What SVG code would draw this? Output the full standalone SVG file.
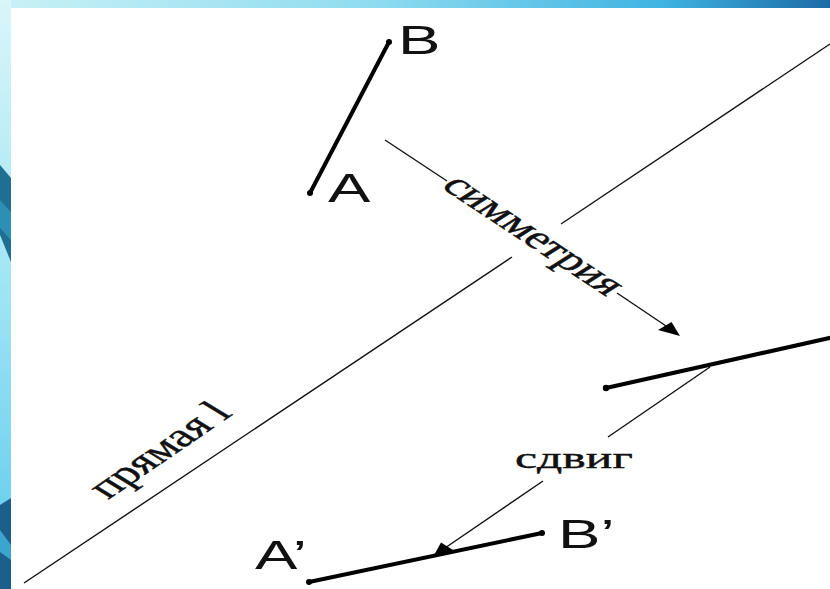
<svg xmlns="http://www.w3.org/2000/svg" width="830" height="589" viewBox="0 0 830 589">
  <defs>
    <linearGradient id="topg" x1="0" y1="0" x2="1" y2="0">
      <stop offset="0" stop-color="#c9f1f6"/>
      <stop offset="0.45" stop-color="#8fdcf0"/>
      <stop offset="0.8" stop-color="#3fb3e2"/>
      <stop offset="1" stop-color="#1b6aa6"/>
    </linearGradient>
    <linearGradient id="leftg" x1="0" y1="0" x2="0" y2="1">
      <stop offset="0" stop-color="#d9f6f9"/>
      <stop offset="0.5" stop-color="#9fe4f4"/>
      <stop offset="1" stop-color="#5cc9ec"/>
    </linearGradient>
    <style>
      .thin { stroke: #111; stroke-width: 1.4; fill: none; }
      .thick { stroke: #000; stroke-width: 4; fill: none; stroke-linecap: round; }
      .dot { fill: #000; }
      .head { fill: #000; }
      .lbl { font-family: "Liberation Sans", Arial, sans-serif; font-size: 41px; fill: #111; }
      .ser { font-family: "Liberation Serif", "Times New Roman", serif; fill: #111; stroke: #111; stroke-width: 0.4; }
    </style>
  </defs>

  <!-- background -->
  <rect x="0" y="0" width="830" height="589" fill="#ffffff"/>
  <rect x="0" y="0" width="830" height="8" fill="url(#topg)"/>
  <rect x="0" y="0" width="11" height="589" fill="url(#leftg)"/>
  <path d="M0 165 L11 178 L11 262 L0 235 Z" fill="#1f6f93"/>
  <path d="M0 200 L11 212 L11 240 L0 228 Z" fill="#2d8fb3"/>
  <path d="M0 505 L11 498 L11 589 L0 589 Z" fill="#1d5f8c"/>
  <path d="M0 530 L11 545 L11 560 L0 552 Z" fill="#3aa6cf"/>

  <!-- line l -->
  <g id="line-l">
    <line class="thin" x1="24" y1="583" x2="512" y2="257"/>
    <line class="thin" x1="561" y1="224" x2="830" y2="44"/>
    <text class="ser" font-size="33" textLength="118" lengthAdjust="spacingAndGlyphs" transform="translate(108,500) scale(1.55,1) rotate(-46.6)" x="0" y="0">прямая l</text>
  </g>

  <!-- segment AB -->
  <g id="segment-AB">
    <line class="thick" x1="310" y1="193" x2="389" y2="42"/>
    <circle class="dot" cx="310" cy="193" r="3"/>
    <circle class="dot" cx="389" cy="42" r="3"/>
    <text class="lbl" transform="translate(398,54) scale(1.55,1)">B</text>
    <text class="lbl" transform="translate(328,202) scale(1.55,1)">A</text>
  </g>

  <!-- reflected segment -->
  <g id="segment-reflected">
    <line class="thick" x1="606" y1="388" x2="834" y2="337"/>
    <circle class="dot" cx="606" cy="388" r="3.2"/>
  </g>

  <!-- segment A'B' -->
  <g id="segment-A1B1">
    <line class="thick" x1="309" y1="582" x2="542" y2="533"/>
    <circle class="dot" cx="309" cy="582" r="3"/>
    <circle class="dot" cx="542" cy="533" r="3"/>
    <text class="lbl" transform="translate(255,569) scale(1.55,1)">A’</text>
    <text class="lbl" transform="translate(558,548) scale(1.55,1)">B’</text>
  </g>

  <!-- connectors -->
  <g id="connectors">
    <g id="arrow-symmetry">
      <line class="thin" x1="385" y1="140" x2="447" y2="181"/>
      <line class="thin" x1="617" y1="293" x2="672" y2="330"/>
      <polygon class="head" points="680,336 658,330 671.5,322"/>
      <text class="ser" font-size="32" text-anchor="middle" textLength="154" lengthAdjust="spacingAndGlyphs" transform="translate(531,237) scale(1.55,1) rotate(45.7)" x="0" y="7">симметрия</text>
    </g>
    <g id="arrow-shift">
      <line class="thin" x1="710" y1="367" x2="608" y2="437"/>
      <line class="thin" x1="543" y1="481" x2="445" y2="548"/>
      <polygon class="head" points="433,557 454.6,551 441,542.6"/>
      <text class="ser" font-size="30" textLength="76" lengthAdjust="spacingAndGlyphs" transform="translate(515,468) scale(1.55,1)" x="0" y="0">сдвиг</text>
    </g>
  </g>
</svg>
